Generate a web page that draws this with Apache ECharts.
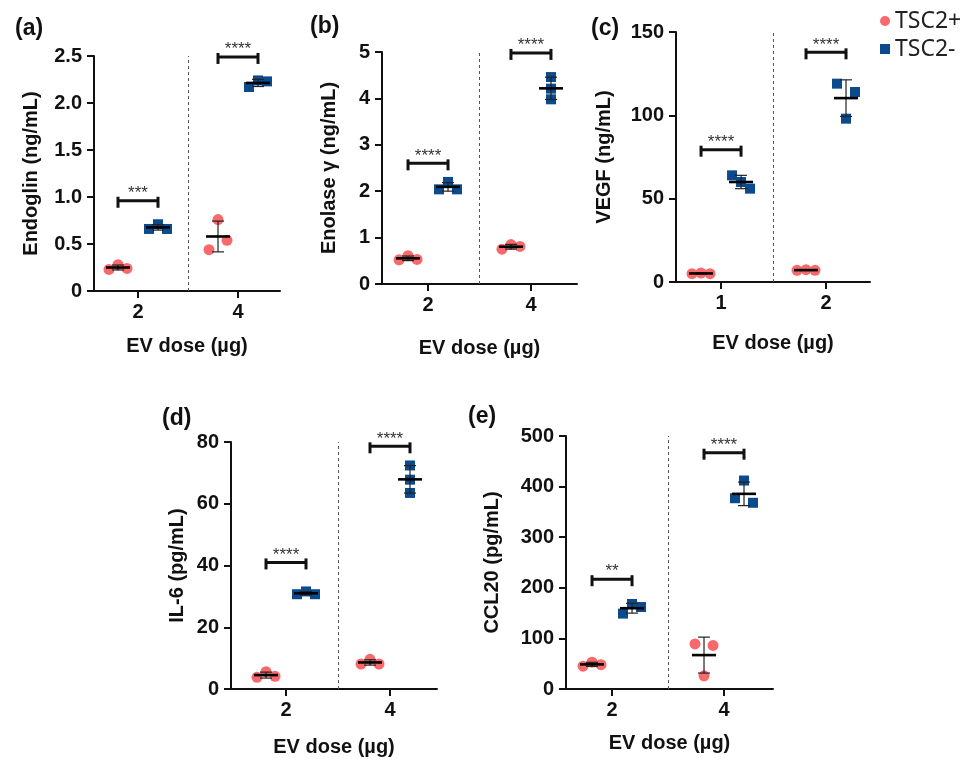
<!DOCTYPE html>
<html>
<head>
<meta charset="utf-8">
<script src="https://cdn.jsdelivr.net/npm/echarts@6/dist/echarts.min.js"></script>
<style>
  html, body { margin: 0; padding: 0; background: #fff; }
  #chart { width: 968px; height: 759px; }
</style>
</head>
<body>
<div id="chart"></div>
<script>
// panel texts
var panelLetters = ['(a)', '(b)', '(c)', '(d)', '(e)'];
var yNames = ['Endoglin (ng/mL)', 'Enolase γ (ng/mL)', 'VEGF (ng/mL)', 'IL-6 (pg/mL)', 'CCL20 (pg/mL)'];
var xName = 'EV dose (µg)';
var doseTicks = [['2', '4'], ['2', '4'], ['1', '2'], ['2', '4'], ['2', '4']];
var yMax = [2.5, 5, 150, 80, 500];
var yStep = [0.5, 1, 50, 20, 100];
var groupNames = ['TSC2+', 'TSC2-'];

// three replicates per dose, [low dose, high dose]
var endoglinPos = [[0.23, 0.28, 0.24], [0.44, 0.76, 0.54]];
var endoglinNeg = [[0.66, 0.71, 0.66], [2.17, 2.24, 2.23]];
var enolasePos = [[0.52, 0.61, 0.53], [0.75, 0.85, 0.81]];
var enolaseNeg = [[2.04, 2.20, 2.04], [4.46, 4.21, 3.98]];
var vegfPos = [[5.0, 5.4, 5.0], [7.0, 7.4, 7.0]];
var vegfNeg = [[64, 60, 56], [119, 98, 114]];
var il6Pos = [[3.8, 5.6, 4.1], [8.1, 9.6, 8.1]];
var il6Neg = [[30.7, 31.6, 30.7], [72.4, 67.8, 63.5]];
var ccl20Pos = [[45, 53, 48], [89, 26, 86]];
var ccl20Neg = [[149, 168, 162], [377, 412, 368]];

// significance brackets
var sigText = [['***', '****'], ['****', '****'], ['****', '****'], ['****', '****'], ['**', '****']];
var sigLevel = [[0.96, 2.49], [2.6, 4.98], [79.4, 137.8], [41, 78.6], [217, 467]];

var panelPos = [endoglinPos, enolasePos, vegfPos, il6Pos, ccl20Pos];
var panelNeg = [endoglinNeg, enolaseNeg, vegfNeg, il6Neg, ccl20Neg];

// layout of the five plots (pixels)
var layouts = [
  { left: 94, top: 56, width: 186, height: 235, xMin: 0.56, xMax: 2.42, yGap: 53, xGap: 45, tx: 10, ty: 12 },
  { left: 382, top: 52, width: 195, height: 232, xMin: 0.553, xMax: 2.447, yGap: 43, xGap: 54, tx: 305, ty: 10 },
  { left: 676, top: 32, width: 194, height: 250, xMin: 0.571, xMax: 2.419, yGap: 62, xGap: 51, tx: 586, ty: 12 },
  { left: 231, top: 442, width: 206, height: 247, xMin: 0.471, xMax: 2.452, yGap: 44, xGap: 48, tx: 157, ty: 402 },
  { left: 566, top: 436, width: 207, height: 253, xMin: 0.589, xMax: 2.4375, yGap: 64, xGap: 44, tx: 463, ty: 400 }
];

var colPos = '#F8696B';
var colNeg = '#0C4A8E';
var boldFont = 'Liberation Sans';

function mean(a) {
  var s = 0;
  for (var i = 0; i < a.length; i++) s += a[i];
  return s / a.length;
}
function sd(a) {
  var m = mean(a), s = 0;
  for (var i = 0; i < a.length; i++) s += (a[i] - m) * (a[i] - m);
  return Math.sqrt(s / (a.length - 1));
}
// spread replicates sideways only when they would overlap
function spread(vals, pxPerVal) {
  var hit = false;
  for (var i = 0; i < vals.length; i++)
    for (var j = i + 1; j < vals.length; j++)
      if (Math.abs(vals[i] - vals[j]) * pxPerVal < 10.5) hit = true;
  return vals.map(function (v, k) { return hit ? (k - 1) * 9 : 0; });
}

function renderStats(params, api) {
  var xc = api.value(0), m = api.value(1), lo = api.value(2), hi = api.value(3);
  var pm = api.coord([xc, m]), pl = api.coord([xc, lo]), ph = api.coord([xc, hi]);
  var st = { stroke: '#222', lineWidth: 1.2 };
  return {
    type: 'group',
    children: [
      { type: 'line', shape: { x1: pl[0], y1: pl[1], x2: ph[0], y2: ph[1] }, style: st },
      { type: 'line', shape: { x1: pl[0] - 6, y1: pl[1], x2: pl[0] + 6, y2: pl[1] }, style: st },
      { type: 'line', shape: { x1: ph[0] - 6, y1: ph[1], x2: ph[0] + 6, y2: ph[1] }, style: st },
      { type: 'line', shape: { x1: pm[0] - 12, y1: pm[1], x2: pm[0] + 12, y2: pm[1] }, style: { stroke: '#000', lineWidth: 2.6 } }
    ]
  };
}

function renderSig(params, api) {
  var p1 = api.coord([api.value(0), api.value(2)]);
  var p2 = api.coord([api.value(1), api.value(2)]);
  var txt = sigText[api.value(3)][api.value(4)];
  var st = { stroke: '#111', lineWidth: 3 };
  return {
    type: 'group',
    children: [
      { type: 'line', shape: { x1: p1[0], y1: p1[1], x2: p2[0], y2: p2[1] }, style: st },
      { type: 'line', shape: { x1: p1[0], y1: p1[1] - 4, x2: p1[0], y2: p1[1] + 7 }, style: st },
      { type: 'line', shape: { x1: p2[0], y1: p2[1] - 4, x2: p2[0], y2: p2[1] + 7 }, style: st },
      {
        type: 'text',
        style: {
          text: txt, x: (p1[0] + p2[0]) / 2, y: p1[1] + 1,
          align: 'center', verticalAlign: 'bottom',
          fontSize: 17, fontFamily: boldFont, fill: '#333'
        }
      }
    ]
  };
}

var grids = [], xAxes = [], yAxes = [], titles = [], series = [];

layouts.forEach(function (L, i) {
  var pxPerX = L.width / (L.xMax - L.xMin);
  var pxPerY = L.height / yMax[i];
  var ticks = doseTicks[i];

  grids.push({ left: L.left, top: L.top, width: L.width, height: L.height });
  titles.push({
    text: panelLetters[i], left: L.tx, top: L.ty,
    textStyle: { fontSize: 23, fontWeight: 'bold', fontFamily: boldFont, color: '#111' }
  });

  xAxes.push({
    type: 'value', gridIndex: i, min: L.xMin, max: L.xMax,
    name: xName, nameLocation: 'middle', nameGap: L.xGap,
    nameTextStyle: { fontSize: 20, fontWeight: 'bold', fontFamily: boldFont, color: '#111' },
    axisLine: { lineStyle: { color: '#111', width: 2 } },
    axisTick: { customValues: [1, 2], length: 7, lineStyle: { color: '#111', width: 2 } },
    axisLabel: {
      customValues: [1, 2], margin: 11,
      fontSize: 20, fontWeight: 'bold', fontFamily: boldFont, color: '#111',
      formatter: function (v) { return ticks[Math.round(v) - 1]; }
    },
    splitLine: { show: false }
  });

  yAxes.push({
    type: 'value', gridIndex: i, min: 0, max: yMax[i], interval: yStep[i],
    name: yNames[i], nameLocation: 'middle', nameGap: L.yGap,
    nameTextStyle: { fontSize: 20, fontWeight: 'bold', fontFamily: boldFont, color: '#111' },
    axisLine: { show: true, lineStyle: { color: '#111', width: 2 } },
    axisTick: { show: true, length: 7, lineStyle: { color: '#111', width: 2 } },
    axisLabel: {
      margin: 12, fontSize: 20, fontWeight: 'bold', fontFamily: boldFont, color: '#111',
      formatter: function (v) { return (v === 0 || yStep[i] >= 1) ? String(v) : v.toFixed(1); }
    },
    splitLine: { show: false }
  });

  var groups = [panelPos[i], panelNeg[i]];
  var stats = [], sig = [];
  groups.forEach(function (g, gi) {
    var pts = [];
    var shift = (gi === 0 ? -20 : 20) / pxPerX;
    g.forEach(function (vals, d) {
      var off = spread(vals, pxPerY);
      var xc = d + 1 + shift;
      vals.forEach(function (v, k) {
        pts.push([xc + off[k] / pxPerX, v]);
      });
      var m = mean(vals), s = sd(vals);
      stats.push([xc, m, m - s, m + s]);
    });
    var ser = {
      name: groupNames[gi], type: 'scatter', xAxisIndex: i, yAxisIndex: i,
      symbol: gi === 0 ? 'circle' : 'rect', symbolSize: gi === 0 ? 11 : 10,
      itemStyle: { color: gi === 0 ? colPos : colNeg, opacity: 1 },
      data: pts, z: 3
    };
    if (gi === 0) {
      ser.markLine = {
        silent: true, symbol: 'none', label: { show: false },
        lineStyle: { type: [3, 3], color: '#555', width: 1 },
        data: [{ xAxis: 1.5 }]
      };
    }
    series.push(ser);
  });

  [0, 1].forEach(function (d) {
    sig.push([d + 1 - 20 / pxPerX, d + 1 + 20 / pxPerX, sigLevel[i][d], i, d]);
  });

  series.push({
    type: 'custom', xAxisIndex: i, yAxisIndex: i, renderItem: renderStats,
    data: stats, encode: { x: 0, y: [1, 2, 3] }, z: 5, silent: true
  });
  series.push({
    type: 'custom', xAxisIndex: i, yAxisIndex: i, renderItem: renderSig,
    data: sig, encode: { x: [0, 1], y: 2 }, z: 5, silent: true
  });
});

var chart = echarts.init(document.getElementById('chart'));
chart.setOption({
  animation: false,
  backgroundColor: '#fff',
  title: titles,
  legend: {
    data: [{ name: 'TSC2+', icon: 'circle' }, { name: 'TSC2-', icon: 'rect' }],
    orient: 'vertical', left: 875, top: 4,
    itemWidth: 10, itemHeight: 10, itemGap: 4,
    textStyle: { fontSize: 23, fontFamily: 'Noto Sans', color: '#222', lineHeight: 24 }
  },
  grid: grids,
  xAxis: xAxes,
  yAxis: yAxes,
  series: series
});
</script>
</body>
</html>
